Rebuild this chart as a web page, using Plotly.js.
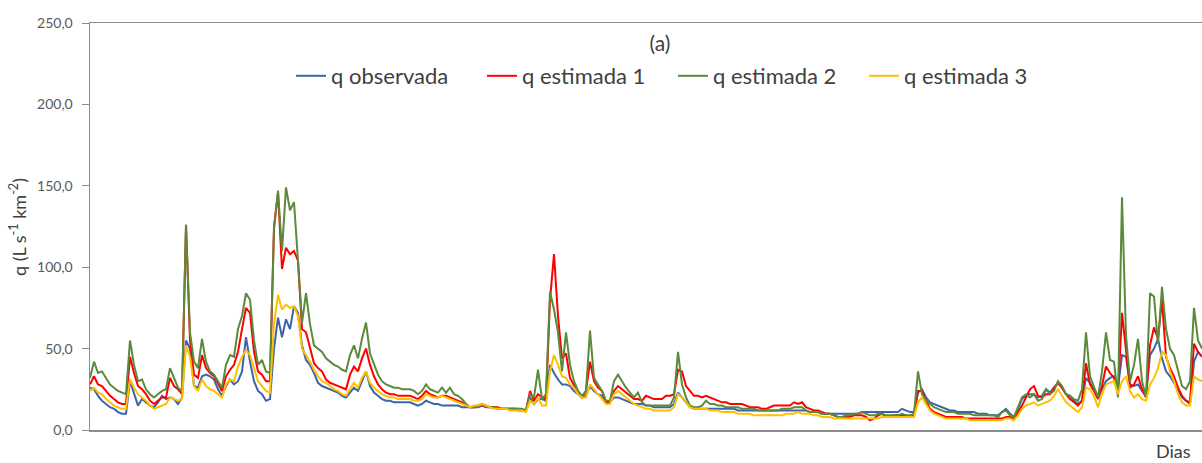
<!DOCTYPE html>
<html>
<head>
<meta charset="utf-8">
<script src="https://cdn.plot.ly/plotly-3.0.1.min.js"></script>
<style>
  html, body { margin: 0; padding: 0; background: #ffffff; }
  #chart { width: 1202px; height: 463px; }
</style>
</head>
<body>
<div id="chart"></div>
<script>
// Vazão específica diária (L s-1 km-2): observada e três estimativas
const nDias = 279;
const dias = Array.from({ length: nDias }, (_, i) => i + 1);

const qObservada = [
  26,25,21,18,16,14,13,11,10,10,
  30,22,15,19,17,15,14,17,21,19,
  20,19,16,20,55,50,27,26,33,34,
  33,31,25,21,27,31,28,30,36,57,
  42,30,24,22,18,19,50,69,57,68,
  62,76,72,52,43,40,35,29,27,26,
  25,24,23,21,20,23,26,24,30,36,
  27,23,21,19,18,18,17,17,17,17,
  17,16,15,16,18,17,16,16,15,15,
  15,15,15,14,14,14,14,14,15,14,
  14,14,13,13,13,13,13,12,12,12,
  20,16,19,19,18,40,35,31,28,28,
  27,24,22,20,21,27,24,22,21,17,
  17,20,20,19,18,17,16,16,16,15,
  15,14,14,14,14,14,16,23,20,17,
  14,13,13,13,13,13,13,13,13,13,
  13,13,12,12,12,12,12,12,12,12,
  12,12,12,12,12,12,12,12,12,12,
  11,11,11,10,10,10,10,10,10,10,
  10,10,10,11,11,11,11,11,11,11,
  11,11,11,13,12,11,11,23,25,20,
  17,16,15,14,13,12,12,11,11,11,
  11,11,10,10,10,9,9,9,11,13,
  10,8,13,19,21,22,22,20,21,25,
  23,26,29,26,22,21,18,16,18,32,
  29,25,20,25,30,32,33,26,46,45,
  28,27,28,24,21,46,50,56,44,36,
  33,29,24,20,18,16,42,48,45
];

const qEstimada1 = [
  28,33,28,27,24,21,19,17,16,16,
  45,35,27,25,22,18,16,18,20,20,
  32,27,25,22,126,55,34,32,46,38,
  35,33,28,24,33,37,40,48,62,75,
  72,48,36,34,30,30,125,146,99,112,
  108,110,104,62,60,50,41,38,36,31,
  29,28,27,26,25,34,39,36,44,50,
  40,33,28,25,23,22,22,21,21,21,
  21,20,19,21,24,22,21,20,21,21,
  20,19,18,17,15,14,14,15,15,15,
  14,14,14,13,13,13,13,13,12,12,
  24,18,22,20,19,80,108,70,44,47,
  32,27,23,20,24,42,30,26,24,17,
  17,24,27,25,23,21,19,19,18,21,
  20,19,19,19,21,21,22,37,36,27,
  24,21,21,20,21,20,19,18,17,17,
  16,16,16,16,15,14,14,14,13,13,
  14,15,15,15,15,15,17,16,17,14,
  13,12,12,11,10,10,9,8,8,8,
  8,9,9,9,8,6,7,9,10,8,
  8,9,9,9,9,8,9,24,24,18,
  13,11,10,9,8,8,8,8,8,7,
  7,7,7,7,7,7,7,7,7,8,
  8,7,11,15,20,25,27,21,20,22,
  22,26,29,26,22,19,17,15,18,41,
  28,24,19,27,39,35,32,22,72,50,
  26,28,33,25,20,52,63,56,80,45,
  38,33,26,21,18,17,53,48,45
];

const qEstimada2 = [
  32,42,35,36,32,28,26,24,23,22,
  55,40,30,31,25,22,20,22,24,25,
  38,32,26,24,126,60,42,38,56,42,
  36,34,30,26,40,46,45,62,70,84,
  80,55,40,43,36,35,123,147,110,149,
  135,140,104,66,84,65,52,50,48,44,
  42,40,39,37,36,46,52,44,56,66,
  47,40,34,30,28,27,26,26,25,25,
  25,24,22,24,28,25,24,23,26,23,
  26,22,21,19,16,14,14,15,16,15,
  14,14,13,13,13,13,13,13,13,12,
  22,20,37,19,22,85,74,60,36,60,
  40,30,24,21,24,61,32,28,24,18,
  18,30,34,30,26,23,20,23,17,15,
  15,15,15,15,15,15,20,48,28,20,
  15,14,14,15,18,16,16,15,15,14,
  14,14,14,13,13,13,13,12,12,12,
  12,12,12,13,13,13,14,14,14,12,
  11,11,11,10,10,10,9,8,8,9,
  9,10,10,11,10,9,9,10,10,9,
  9,9,9,10,9,9,10,36,22,18,
  16,14,13,12,11,11,11,10,10,10,
  10,9,9,9,9,9,9,8,11,12,
  9,8,14,20,22,20,22,18,19,25,
  22,24,30,27,22,21,19,18,25,60,
  33,27,20,36,60,43,42,20,143,58,
  30,40,56,30,20,84,82,53,88,62,
  50,46,36,27,25,30,75,55,50
];

const qEstimada3 = [
  24,26,23,22,19,17,15,14,13,13,
  31,26,22,20,18,15,13,14,15,16,
  20,19,18,19,52,45,27,24,31,27,
  25,24,22,20,28,31,30,39,45,49,
  46,38,30,27,24,23,65,83,74,77,
  75,76,70,50,46,42,37,33,30,29,
  27,25,24,22,21,25,29,26,32,36,
  29,26,24,22,21,20,20,19,19,19,
  19,18,18,19,22,21,20,20,21,20,
  19,18,17,16,15,14,15,15,16,15,
  14,13,13,13,13,12,12,12,12,11,
  18,16,20,15,15,36,46,40,33,32,
  28,26,22,20,20,28,25,22,19,16,
  16,22,24,22,20,18,16,15,14,13,
  13,12,12,12,12,12,14,22,20,17,
  14,13,13,13,13,12,12,12,11,11,
  11,11,10,10,10,10,9,9,9,9,
  9,9,9,9,10,10,10,11,10,10,
  10,9,9,8,8,8,7,7,7,7,
  7,7,7,7,7,7,7,7,8,8,
  8,8,8,8,8,8,8,17,20,16,
  12,10,9,8,7,7,7,7,7,7,
  6,6,6,6,6,6,6,6,6,7,
  7,6,9,13,15,16,17,15,16,17,
  18,21,25,21,17,15,13,11,14,26,
  25,21,14,22,28,29,30,22,30,33,
  24,20,22,19,18,28,32,38,48,46,
  36,30,22,17,15,15,33,31,30
];

const nomes = ['q observada', 'q estimada 1', 'q estimada 2', 'q estimada 3'];
const cores = ['#3b64ad', '#ff0000', '#5a8a3a', '#ffc000'];
const series = [qObservada, qEstimada1, qEstimada2, qEstimada3];

const fonte = 'Lato, "Open Sans", sans-serif';
const corTexto = '#404040';
const corEixo = '#8c8c8c';

const traces = series.map((valores, k) => ({
  type: 'scatter',
  mode: 'lines',
  name: nomes[k],
  x: dias,
  y: valores,
  line: { color: cores[k], width: 2 },
  hoverinfo: 'x+y+name'
}));

const layout = {
  width: 1202,
  height: 463,
  margin: { l: 90, r: 0, t: 23, b: 33, pad: 0 },
  paper_bgcolor: '#ffffff',
  plot_bgcolor: '#ffffff',
  separators: ',.',
  font: { family: fonte, color: corTexto },
  title: {
    text: '(a)',
    font: { family: fonte, size: 21, color: corTexto },
    x: 660 / 1202,
    xanchor: 'center',
    y: 1 - 44 / 463,
    yanchor: 'middle'
  },
  showlegend: true,
  legend: {
    orientation: 'h',
    x: (291 - 90) / 1112,
    xanchor: 'left',
    y: (430 - 55) / 407,
    yanchor: 'top',
    font: { family: fonte, size: 22, color: corTexto },
    bgcolor: 'rgba(0,0,0,0)',
    itemwidth: 30,
    entrywidth: 146,
    entrywidthmode: 'pixels',
    tracegroupgap: 0
  },
  xaxis: {
    range: [1, nDias],
    showline: true,
    linecolor: corEixo,
    linewidth: 1.5,
    mirror: true,
    showticklabels: false,
    ticks: '',
    showgrid: false,
    zeroline: false,
    fixedrange: true
  },
  yaxis: {
    range: [0, 250],
    dtick: 50,
    tick0: 0,
    tickformat: '.1f',
    ticks: 'outside',
    ticklen: 7,
    tickcolor: corEixo,
    tickwidth: 1,
    ticklabelstandoff: 6,
    showline: true,
    linecolor: corEixo,
    linewidth: 1.5,
    showgrid: false,
    zeroline: false,
    tickfont: { family: fonte, size: 14, color: '#595959' },
    fixedrange: true
  },
  annotations: [
    {
      text: 'q (L s<sup>-1</sup> km<sup>-2</sup>)',
      textangle: -90,
      xref: 'paper', yref: 'paper',
      x: (18 - 90) / 1112, y: (430 - 227) / 407,
      xanchor: 'center', yanchor: 'middle',
      showarrow: false,
      font: { family: fonte, size: 18, color: corTexto }
    },
    {
      text: 'Dias',
      xref: 'paper', yref: 'paper',
      x: (1173 - 90) / 1112, y: (430 - 451) / 407,
      xanchor: 'center', yanchor: 'middle',
      showarrow: false,
      font: { family: fonte, size: 18, color: corTexto }
    }
  ]
};

Plotly.newPlot('chart', traces, layout, { displayModeBar: false, staticPlot: true });
</script>
</body>
</html>
